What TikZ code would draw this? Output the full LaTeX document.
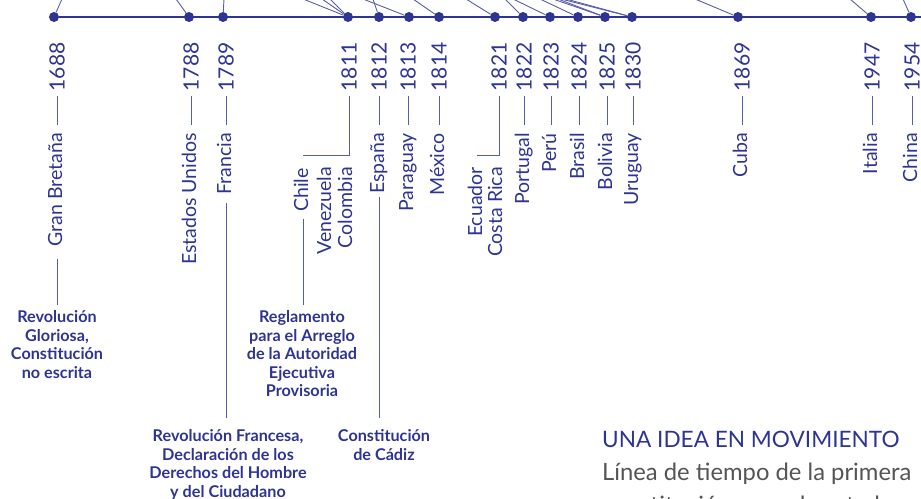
\documentclass[tikz,border=0pt]{standalone}
\usepackage{fontspec}
\setmainfont{Lato}
\definecolor{tlblue}{RGB}{46,52,145}
\definecolor{tlgrey}{RGB}{85,85,85}
\begin{document}
\begin{tikzpicture}[x=1pt,y=-1pt,
  dot/.style={circle, fill=tlblue, inner sep=0pt, minimum size=10pt},
  yearlbl/.style={rotate=90, anchor=east, inner sep=0pt, text=tlblue,
    font=\fontsize{21}{21}\selectfont, text width=48pt, align=right,
    text height=15pt, text depth=0pt},
  countrylbl/.style={rotate=90, anchor=east, inner sep=0pt, text=tlblue,
    font=\fontsize{19.5}{19.5}\selectfont, text height=14pt, text depth=4pt},
  eventlbl/.style={anchor=north, inner sep=0pt, align=center, text=tlblue,
    font=\bfseries\fontsize{16.2}{18.5}\selectfont},
  conn/.style={draw=tlblue!80, line width=0.9pt},
  axisline/.style={draw=tlblue, line width=1.3pt}]
\useasboundingbox (0,0) rectangle (921,498);
\clip (0,0) rectangle (921,498);

% dots on the timeline
\foreach \n/\x in {1688/54, 1788/189, 1789/223, 1811/348, 1812/379, 1813/409,
  1814/439, 1821/495, 1822/523, 1823/550, 1824/578, 1825/605, 1830/632,
  1869/738, 1947/871, 1954/911}
  \node[dot] (d\n) at (\x,17) {};

\coordinate (tlend) at (921,17);
\draw[axisline] (d1688) -- (tlend);

% lines coming from above
\foreach \t/\x/\n in {a/62/1688, b/176/1788, c/224/1789, d/303/1811, e/322/1811,
  f/330/1811, g/373/1812, h/363/1813, i/413/1814, j/466/1821, k/505/1822,
  l/513/1823, m/540/1824, n/553/1825, o/558/1825, p/561/1830, q/566/1830,
  r/695/1869, s/850/1947, u/903/1954}{
  \coordinate (top\t) at (\x,-1);
  \draw[conn] (top\t) -- (d\n);
}

% years
\foreach \n/\x in {1688/57, 1788/191, 1789/226, 1811/349, 1812/379, 1813/408,
  1814/439, 1821/499, 1822/524, 1823/551, 1824/579, 1825/607, 1830/633,
  1869/742, 1947/872, 1954/912}
  \node[yearlbl] (y\n) at (\x,43) {\n};

% countries
\node[countrylbl] (c1688) at (57,133) {Gran Bretaña};
\node[countrylbl] (c1788) at (191,133) {Estados Unidos};
\node[countrylbl] (c1789) at (226,133) {Francia};
\node[countrylbl] (c1812) at (379,133) {España};
\node[countrylbl] (c1813) at (408,133) {Paraguay};
\node[countrylbl] (c1814) at (439,133) {México};
\node[countrylbl] (c1822) at (524,133) {Portugal};
\node[countrylbl] (c1823) at (551,133) {Perú};
\node[countrylbl] (c1824) at (579,133) {Brasil};
\node[countrylbl] (c1825) at (607,133) {Bolivia};
\node[countrylbl] (c1830) at (633,133) {Uruguay};
\node[countrylbl] (c1869) at (742,133) {Cuba};
\node[countrylbl] (c1947) at (872,133) {Italia};
\node[countrylbl] (c1954) at (912,133) {China};

\node[countrylbl] (cChile) at (303,168) {Chile};
\node[countrylbl] (cVen) at (326,167) {Venezuela};
\node[countrylbl] (cCol) at (347,167) {Colombia};
\node[countrylbl] (cEcu) at (477,167) {Ecuador};
\node[countrylbl] (cCR) at (497,167) {Costa Rica};

% year-country connectors
\foreach \n in {1688,1788,1789,1812,1813,1814,1822,1823,1824,1825,1830,1869,1947,1954}
  \draw[conn, shorten <=5pt, shorten >=8pt] (y\n.west) -- (c\n.east);

\coordinate (k1811) at (303,155);
\draw[conn, shorten <=5pt] (y1811.west) |- (k1811);
\coordinate (k1821) at (477,155);
\draw[conn, shorten <=5pt] (y1821.west) |- (k1821);

% events
\node[eventlbl] (e1688) at (57,310.5) {Revolución\\Gloriosa,\\Constitución\\no escrita};
\node[eventlbl] (eReg) at (302,310.5) {Reglamento\\para el Arreglo\\de la Autoridad\\Ejecutiva\\Provisoria};
\node[eventlbl] (e1789) at (228,429.5) {Revolución Francesa,\\Declaración de los\\Derechos del Hombre\\y del Ciudadano};
\node[eventlbl] (e1812) at (384,429.5) {Constitución\\de Cádiz};

\draw[conn, shorten <=12pt, shorten >=5.5pt] (c1688.west) -- (c1688.west |- e1688.north);
\draw[conn, shorten <=8pt, shorten >=11.5pt] (c1789.west) -- (c1789.west |- e1789.north);
\draw[conn, shorten <=3pt, shorten >=11.5pt] (c1812.west) -- (c1812.west |- e1812.north);
\draw[conn, shorten <=7pt, shorten >=5.5pt] (cChile.west) -- (cChile.west |- eReg.north);

% caption
\node[anchor=base west, inner sep=0pt, text=tlblue, font=\fontsize{22.6}{22.6}\selectfont]
  (title) at (602,447) {UNA IDEA EN MOVIMIENTO};
\node[anchor=base west, inner sep=0pt, text=tlgrey, font=\fontsize{23.8}{23.8}\selectfont]
  (cap1) at (602,480) {Línea de tiempo de la primera};
\node[anchor=base west, inner sep=0pt, text=tlgrey, font=\fontsize{23.8}{23.8}\selectfont]
  (cap2) at (602,513) {constitución en cada estado};
\end{tikzpicture}
\end{document}
